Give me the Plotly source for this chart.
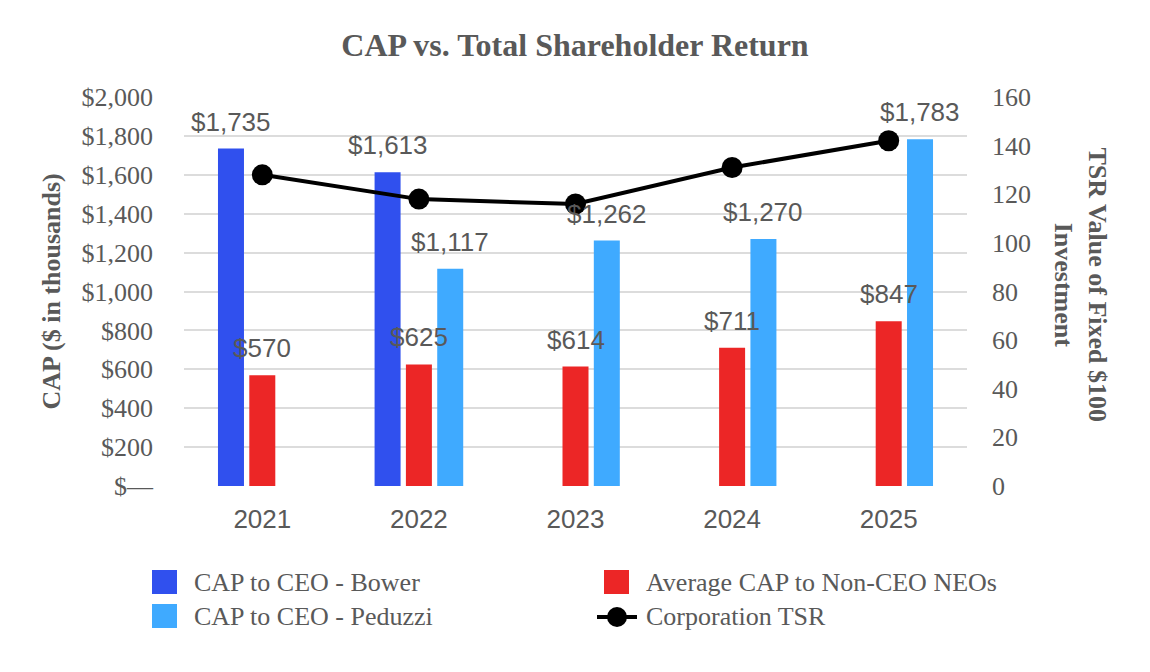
import plotly.graph_objects as go

# ---- data ----
years = ["2021", "2022", "2023", "2024", "2025"]
cap_bower = [1735, 1613, None, None, None]
cap_neo = [570, 625, 614, 711, 847]
cap_peduzzi = [None, 1117, 1262, 1270, 1783]
tsr = [128, 118, 116, 131, 142]

left_tickvals = [0, 200, 400, 600, 800, 1000, 1200, 1400, 1600, 1800, 2000]
left_ticktext = ["$\u2014", "$200", "$400", "$600", "$800", "$1,000", "$1,200",
                 "$1,400", "$1,600", "$1,800", "$2,000"]
right_tickvals = [0, 20, 40, 60, 80, 100, 120, 140, 160]

names = ["CAP to CEO - Bower", "Average CAP to Non-CEO NEOs", "CAP to CEO - Peduzzi", "Corporation TSR"]
colors = ["#3050EE", "#EC2626", "#3FAAFF", "#000000"]

# ---- layout constants ----
W, H = 1150, 672
ML, MR, MT, MB = 184, 183, 97, 186
PW, PH = W - ML - MR, H - MT - MB
GRAY = "#595959"
SERIF = "Liberation Serif, Times New Roman, serif"
SANS = "Liberation Sans, Arial, sans-serif"
SLOT = PW / 5 * 0.6 / 3  # pixel width of one bar slot in a group


def px(x):
    return (x - ML) / PW


def py(y):
    return (MT + PH - y) / PH


fig = go.Figure()
series = [cap_bower, cap_neo, cap_peduzzi]
for name, vals, col in zip(names[:3], series, colors[:3]):
    fig.add_trace(go.Bar(x=years, y=vals, name=name, marker_color=col,
                         marker_line_width=0, showlegend=False))

fig.add_trace(go.Scatter(x=years, y=tsr, name=names[3], yaxis="y2", mode="lines+markers",
                         line=dict(color="black", width=4),
                         marker=dict(size=21, color="black"), showlegend=False))

annotations = []
for slot, vals in zip([-1, 0, 1], series):
    for i, v in enumerate(vals):
        if v is None:
            continue
        annotations.append(dict(x=i, y=v, xref="x", yref="y", text=f"${v:,}",
                                showarrow=False, xshift=slot * SLOT, yshift=10,
                                yanchor="bottom", xanchor="center",
                                font=dict(family=SANS, size=26, color=GRAY)))

# axis titles
annotations.append(dict(x=px(34), y=py(292), xref="paper", yref="paper",
                        text="<b>CAP ($ in thousands)</b>", textangle=-90, showarrow=False,
                        font=dict(family=SERIF, size=26, color=GRAY)))
annotations.append(dict(x=px(1114), y=py(285), xref="paper", yref="paper",
                        text="<b>TSR Value of Fixed $100<br>Investment</b>", textangle=90,
                        showarrow=False, font=dict(family=SERIF, size=26, color=GRAY)))

# custom legend
shapes = []
leg = [(names[0], colors[0], 152, 582), (names[2], colors[2], 152, 616),
       (names[1], colors[1], 604, 582)]
for name, col, x0, yc in leg:
    shapes.append(dict(type="rect", xref="paper", yref="paper", x0=px(x0), x1=px(x0 + 25),
                       y0=py(yc + 12), y1=py(yc - 12), fillcolor=col, line_width=0))
    annotations.append(dict(x=px(x0 + 40), y=py(yc), xref="paper", yref="paper", text=name,
                            showarrow=False, xanchor="left", yanchor="middle",
                            font=dict(family=SERIF, size=26, color=GRAY)))
shapes.append(dict(type="line", xref="paper", yref="paper", x0=px(597), x1=px(637),
                   y0=py(617), y1=py(617), line=dict(color="black", width=4)))
shapes.append(dict(type="circle", xref="paper", yref="paper", x0=px(607), x1=px(627),
                   y0=py(627), y1=py(607), fillcolor="black", line_width=0))
annotations.append(dict(x=px(644), y=py(616), xref="paper", yref="paper", text=names[3],
                        showarrow=False, xanchor="left", yanchor="middle",
                        font=dict(family=SERIF, size=26, color=GRAY)))

fig.update_layout(
    width=W, height=H,
    margin=dict(l=ML, r=MR, t=MT, b=MB, pad=0),
    paper_bgcolor="white", plot_bgcolor="white",
    barmode="group", bargap=0.4, bargroupgap=0.17,
    title=dict(text="<b>CAP vs. Total Shareholder Return</b>", x=0.5, xanchor="center",
               y=1 - 45 / H, yanchor="middle", font=dict(family=SERIF, size=32, color=GRAY)),
    xaxis=dict(type="category", range=[-0.5, 4.5], autorange=False, showgrid=False,
               zeroline=False, showline=False, ticks="",
               tickfont=dict(family=SANS, size=26, color=GRAY), ticklabelstandoff=15),
    yaxis=dict(range=[0, 2000], tickvals=left_tickvals, ticktext=left_ticktext,
               showgrid=True, gridcolor="#dcdcdc", gridwidth=1.5, zeroline=False,
               showline=False, ticks="", ticklabelstandoff=30,
               tickfont=dict(family=SERIF, size=26, color=GRAY)),
    yaxis2=dict(range=[0, 160], tickvals=right_tickvals, overlaying="y", side="right",
                showgrid=False, zeroline=False, showline=False, ticks="", ticklabelstandoff=24,
                tickfont=dict(family=SERIF, size=26, color=GRAY)),
    showlegend=False,
    annotations=annotations,
    shapes=shapes,
)

fig.write_html("out.html")
